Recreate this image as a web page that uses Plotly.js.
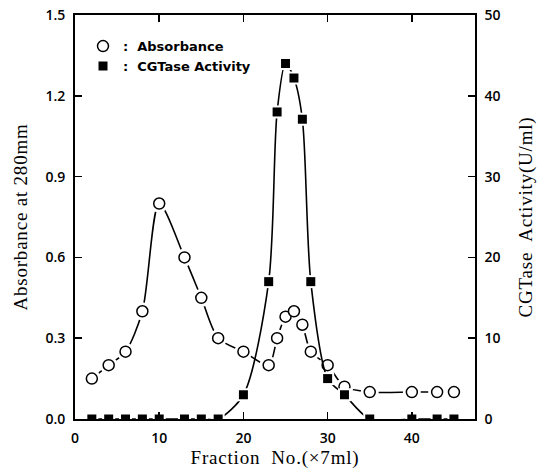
<!DOCTYPE html>
<html>
<head>
<meta charset="utf-8">
<script src="https://cdn.plot.ly/plotly-3.0.1.min.js"></script>
<style>
html,body{margin:0;padding:0;background:#fff;}
#chart{width:537px;height:472px;}
.g-xtitle text, .g-ytitle text, .g-y2title text { letter-spacing: 0.8px; }
</style>
</head>
<body>
<div id="chart"></div>
<script>
// Fraction numbers and values
const absFractions = [2, 4, 6, 8, 10, 13, 15, 17, 20, 23, 24, 25, 26, 27, 28, 30, 32, 35, 40, 43, 45];
const absorbance   = [0.15, 0.20, 0.25, 0.40, 0.80, 0.60, 0.45, 0.30, 0.25, 0.20, 0.30, 0.38, 0.40, 0.35, 0.25, 0.20, 0.12, 0.10, 0.10, 0.10, 0.10];
const actFractions = [2, 4, 6, 8, 10, 13, 15, 17, 20, 23, 24, 25, 26, 27, 28, 30, 32, 35, 40, 43, 45];
const activity     = [0, 0, 0, 0, 0, 0, 0, 0, 3, 17, 38, 44, 42.2, 37.1, 17, 5, 3, 0, 0, 0, 0];
const absTicks = [0.0, 0.3, 0.6, 0.9, 1.2, 1.5];
const absTickText = ['0.0', '0.3', '0.6', '0.9', '1.2', '1.5'];
const actTicks = [0, 10, 20, 30, 40, 50];
const xTicks = [0, 10, 20, 30, 40];

const tickFont = {family: 'Open Sans, DejaVu Sans, Arial, sans-serif', size: 14, color: '#000', weight: 600};
const serif = {family: 'Liberation Serif, Times New Roman, serif', size: 19, color: '#000'};

const traces = [
  {x: absFractions, y: absorbance, yaxis: 'y', mode: 'lines', line: {color: '#000', width: 1.6, shape: 'spline', smoothing: 0.8}, showlegend: false, hoverinfo: 'skip'},
  {x: absFractions, y: absorbance, yaxis: 'y', mode: 'markers', marker: {symbol: 'circle', size: 18, color: '#fff', line: {width: 0}}, showlegend: false, hoverinfo: 'skip'},
  {x: absFractions, y: absorbance, yaxis: 'y', mode: 'markers', name: ':  Absorbance', marker: {symbol: 'circle', size: 11, color: '#fff', line: {color: '#000', width: 1.5}}},
  {x: actFractions, y: activity, yaxis: 'y2', mode: 'lines', line: {color: '#000', width: 1.6, shape: 'spline', smoothing: 0.8}, showlegend: false, hoverinfo: 'skip'},
  {x: actFractions, y: activity, yaxis: 'y2', mode: 'markers', marker: {symbol: 'square', size: 13, color: '#fff', line: {width: 0}}, showlegend: false, hoverinfo: 'skip'},
  {x: actFractions, y: activity, yaxis: 'y2', mode: 'markers', name: ':  CGTase Activity', marker: {symbol: 'square', size: 9, color: '#000', line: {color: '#000', width: 0}}}
];

const layout = {
  width: 537, height: 472,
  margin: {l: 75, r: 62, t: 15, b: 53},
  paper_bgcolor: '#fff', plot_bgcolor: '#fff',
  showlegend: true,
  legend: {x: 0.02, y: 0.96, xanchor: 'left', yanchor: 'top', bgcolor: 'rgba(0,0,0,0)', font: {family: 'DejaVu Sans, Arial, sans-serif', size: 13, color: '#000', weight: 'bold'}, tracegroupgap: 0, itemwidth: 30},
  xaxis: {
    range: [0, 47.5], tickvals: xTicks, ticktext: xTicks.map(String),
    ticks: 'inside', ticklen: 7, tickwidth: 1.5, tickcolor: '#000', ticklabelstandoff: 5,
    showline: true, linecolor: '#000', linewidth: 1.8, mirror: 'ticks',
    showgrid: false, zeroline: false, tickfont: tickFont,
    title: {text: 'Fraction  No.(×7ml)', font: serif, standoff: 3}
  },
  yaxis: {
    range: [0, 1.5], tickvals: absTicks, ticktext: absTickText,
    ticks: 'inside', ticklen: 7, tickwidth: 1.5, tickcolor: '#000', ticklabelstandoff: 5,
    showline: true, linecolor: '#000', linewidth: 1.8,
    showgrid: false, zeroline: false, tickfont: tickFont,
    title: {text: 'Absorbance at 280mm', font: serif, standoff: 13}
  },
  yaxis2: {
    range: [0, 50], tickvals: actTicks, ticktext: actTicks.map(String),
    overlaying: 'y', side: 'right',
    ticks: 'inside', ticklen: 7, tickwidth: 1.5, tickcolor: '#000', ticklabelstandoff: 5,
    showline: true, linecolor: '#000', linewidth: 1.8,
    showgrid: false, zeroline: false, tickfont: tickFont,
    title: {text: 'CGTase  Activity(U/ml)', font: serif, standoff: 21}
  }
};

Plotly.newPlot('chart', traces, layout, {displayModeBar: false, staticPlot: true});
</script>
</body>
</html>
